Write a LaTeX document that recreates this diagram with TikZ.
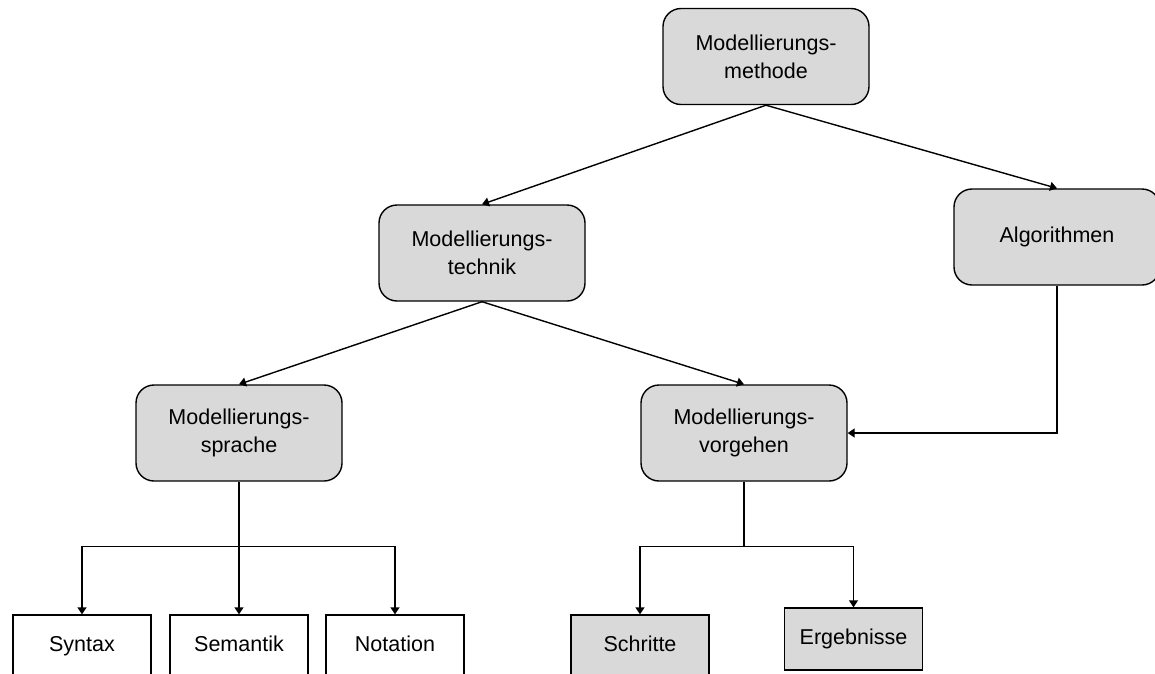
\documentclass[tikz,border=0pt]{standalone}
\usepackage{fontspec}
\setmainfont{Liberation Sans}
\usetikzlibrary{arrows.meta}
\definecolor{boxgray}{HTML}{D9D9D9}
\begin{document}
\begin{tikzpicture}[x=1pt,y=-1pt,
  conn/.style={draw=black, line width=1.4pt, -{Triangle[length=7pt,width=9pt]}},
  line/.style={draw=black, line width=1.4pt},
  roundbox/.style={draw=black, fill=boxgray, rounded corners=18pt, line width=1.4pt,
    minimum width=206pt, minimum height=96pt, inner sep=0pt, align=center,
    font=\fontsize{21.5}{28}\selectfont},
  leafbox/.style={draw=black, line width=1.4pt, minimum width=138pt, minimum height=62pt,
    inner sep=0pt, text height=15.5pt, text depth=4.5pt,
    font=\fontsize{21.5}{28}\selectfont},
  grayleaf/.style={leafbox, fill=boxgray}]
\useasboundingbox (0,0) rectangle (1155,673);
\fill[white] (0,0) rectangle (1155,673);

% method hierarchy
\node[roundbox] (meth) at (766,56.5) {Modellierungs-\\methode};
\node[roundbox] (tech) at (482,253) {Modellierungs-\\technik};
\node[roundbox] (algo) at (1057,237) {Algorithmen};
\node[roundbox] (lang) at (239,433) {Modellierungs-\\sprache};
\node[roundbox] (proc) at (744,433) {Modellierungs-\\vorgehen};

% leaves
\node[leafbox] (syn) at (82,646) {Syntax};
\node[leafbox] (sem) at (239,646) {Semantik};
\node[leafbox] (nota) at (395,646) {Notation};
\node[grayleaf] (step1) at (640,646) {Schritte};
\node[grayleaf] (res) at (853.5,639) {Ergebnisse};

% connectors
\draw[conn] (meth.south) -- (tech.north);
\draw[conn] (meth.south) -- (algo.north);
\draw[conn] (tech.south) -- (lang.north);
\draw[conn] (tech.south) -- (proc.north);
\draw[conn] (algo.south) |- (proc.east);

\draw[line] (lang.south) -- ++(0,65) coordinate (lj);
\draw[conn] (lj) -| (syn.north);
\draw[conn] (lj) -| (nota.north);
\draw[conn] (lj) -- (sem.north);

\draw[line] (proc.south) -- ++(0,65) coordinate (pj);
\draw[conn] (pj) -| (step1.north);
\draw[conn] (pj) -| (res.north);
\end{tikzpicture}
\end{document}
